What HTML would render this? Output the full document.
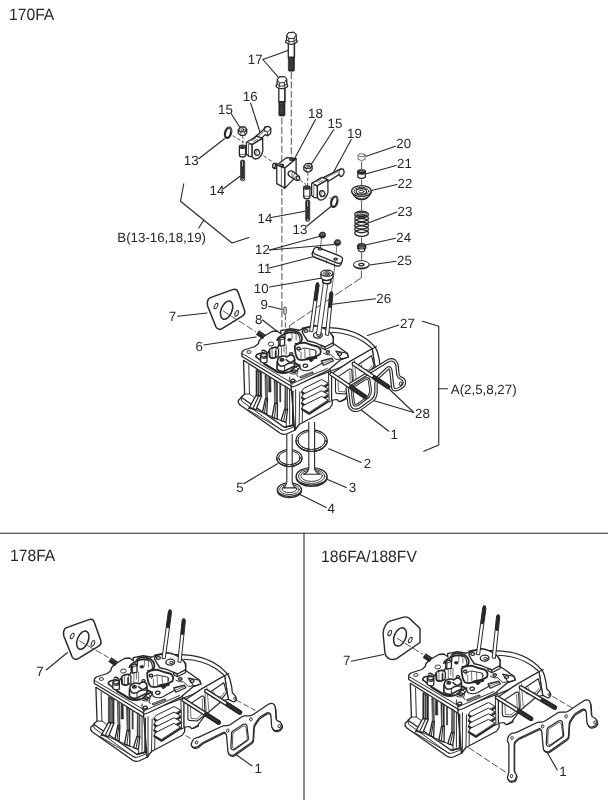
<!DOCTYPE html>
<html><head><meta charset="utf-8"><title>Cylinder head parts diagram</title>
<style>
html,body{margin:0;padding:0;background:#fff;}
body{width:608px;height:800px;overflow:hidden;}
svg{display:block;filter:grayscale(1);}
text{text-rendering:geometricPrecision;font-family:"Liberation Sans",Arial,Helvetica,sans-serif;fill:#2a2627;}
.l{fill:none;stroke:#2a2627;stroke-width:1.1;stroke-linecap:round;stroke-linejoin:round;}
.o{fill:#fff;stroke:#2a2627;stroke-width:.8;stroke-linejoin:round;stroke-linecap:round;}
.n{fill:none;stroke:#2a2627;stroke-width:.95;stroke-linejoin:round;stroke-linecap:round;}
.t{fill:none;stroke:#2a2627;stroke-width:.65;stroke-linejoin:round;stroke-linecap:round;}
.g{fill:#fff;stroke:#2a2627;stroke-width:1.3;stroke-linejoin:round;}
.k{fill:#2a2627;stroke:#2a2627;stroke-width:.6;stroke-linejoin:round;}
.d{fill:none;stroke:#2a2627;stroke-width:.8;stroke-dasharray:7 2.4;}
.r{fill:none;stroke:#2a2627;stroke-width:1.8;}
.h{fill:#777;stroke:none;}
</style></head>
<body>
<svg width="608" height="800" viewBox="0 0 608 800">
<rect x="0" y="0" width="608" height="800" fill="#fff"/>
<path class="l" d="M0.00,533.30 L608.00,533.30"/>
<path class="l" d="M304.00,533.30 L304.00,800.00"/>
<text transform="translate(9.00,20.30) scale(0.95,1)" font-size="16.5" text-anchor="start">170FA</text>
<text transform="translate(10.00,560.50) scale(0.95,1)" font-size="16.5" text-anchor="start">178FA</text>
<text transform="translate(321.00,561.80) scale(0.95,1)" font-size="16.5" text-anchor="start">186FA/188FV</text>
<text transform="translate(247.80,63.60) scale(1.0,1)" font-size="13.3" text-anchor="start">17</text>
<text transform="translate(242.80,100.90) scale(1.0,1)" font-size="13.3" text-anchor="start">16</text>
<text transform="translate(218.00,113.75) scale(1.0,1)" font-size="13.3" text-anchor="start">15</text>
<text transform="translate(308.00,118.00) scale(1.0,1)" font-size="13.3" text-anchor="start">18</text>
<text transform="translate(327.50,128.00) scale(1.0,1)" font-size="13.3" text-anchor="start">15</text>
<text transform="translate(347.00,138.00) scale(1.0,1)" font-size="13.3" text-anchor="start">19</text>
<text transform="translate(183.75,165.00) scale(1.0,1)" font-size="13.3" text-anchor="start">13</text>
<text transform="translate(209.50,194.50) scale(1.0,1)" font-size="13.3" text-anchor="start">14</text>
<text transform="translate(257.50,222.50) scale(1.0,1)" font-size="13.3" text-anchor="start">14</text>
<text transform="translate(292.50,233.75) scale(1.0,1)" font-size="13.3" text-anchor="start">13</text>
<text transform="translate(255.00,254.25) scale(1.0,1)" font-size="13.3" text-anchor="start">12</text>
<text transform="translate(257.50,273.00) scale(1.0,1)" font-size="13.3" text-anchor="start">11</text>
<text transform="translate(253.75,293.00) scale(1.0,1)" font-size="13.3" text-anchor="start">10</text>
<text transform="translate(396.25,148.25) scale(1.0,1)" font-size="13.3" text-anchor="start">20</text>
<text transform="translate(397.00,168.00) scale(1.0,1)" font-size="13.3" text-anchor="start">21</text>
<text transform="translate(397.50,188.00) scale(1.0,1)" font-size="13.3" text-anchor="start">22</text>
<text transform="translate(397.50,216.25) scale(1.0,1)" font-size="13.3" text-anchor="start">23</text>
<text transform="translate(396.25,241.75) scale(1.0,1)" font-size="13.3" text-anchor="start">24</text>
<text transform="translate(397.00,265.00) scale(1.0,1)" font-size="13.3" text-anchor="start">25</text>
<text transform="translate(376.25,303.00) scale(1.0,1)" font-size="13.3" text-anchor="start">26</text>
<text transform="translate(400.00,328.00) scale(1.0,1)" font-size="13.3" text-anchor="start">27</text>
<text transform="translate(415.00,418.25) scale(1.0,1)" font-size="13.3" text-anchor="start">28</text>
<text transform="translate(390.50,439.25) scale(1.0,1)" font-size="13.3" text-anchor="start">1</text>
<text transform="translate(363.75,468.00) scale(1.0,1)" font-size="13.3" text-anchor="start">2</text>
<text transform="translate(348.75,492.00) scale(1.0,1)" font-size="13.3" text-anchor="start">3</text>
<text transform="translate(327.50,513.00) scale(1.0,1)" font-size="13.3" text-anchor="start">4</text>
<text transform="translate(236.25,492.00) scale(1.0,1)" font-size="13.3" text-anchor="start">5</text>
<text transform="translate(195.50,350.50) scale(1.0,1)" font-size="13.3" text-anchor="start">6</text>
<text transform="translate(168.75,320.50) scale(1.0,1)" font-size="13.3" text-anchor="start">7</text>
<text transform="translate(255.00,323.75) scale(1.0,1)" font-size="13.3" text-anchor="start">8</text>
<text transform="translate(260.50,309.25) scale(1.0,1)" font-size="13.3" text-anchor="start">9</text>
<text transform="translate(36.25,675.50) scale(1.0,1)" font-size="13.3" text-anchor="start">7</text>
<text transform="translate(254.50,772.50) scale(1.0,1)" font-size="13.3" text-anchor="start">1</text>
<text transform="translate(343.00,665.00) scale(1.0,1)" font-size="13.3" text-anchor="start">7</text>
<text transform="translate(559.25,776.25) scale(1.0,1)" font-size="13.3" text-anchor="start">1</text>
<text transform="translate(117.30,242.20) scale(1.0,1)" font-size="13.3" text-anchor="start">B(13-16,18,19)</text>
<text transform="translate(450.80,393.80) scale(1.0,1)" font-size="13.3" text-anchor="start">A(2,5,8,27)</text>
<path class="l" d="M262.90,59.50 L287.90,50.40"/>
<path class="l" d="M262.90,59.50 L279.30,78.40"/>
<path class="l" d="M250.60,103.00 L260.40,133.50"/>
<path class="l" d="M231.25,113.75 L240.00,127.50"/>
<path class="l" d="M315.50,119.50 L294.50,158.75"/>
<path class="l" d="M333.75,129.50 L310.50,165.50"/>
<path class="l" d="M351.25,139.50 L332.00,175.00"/>
<path class="l" d="M198.75,158.75 L224.50,138.75"/>
<path class="l" d="M223.25,188.75 L240.00,176.25"/>
<path class="l" d="M271.25,217.50 L305.00,211.25"/>
<path class="l" d="M307.00,226.00 L331.25,206.25"/>
<path class="l" d="M269.50,250.00 L320.00,236.25"/>
<path class="l" d="M269.50,250.00 L334.00,244.50"/>
<path class="l" d="M269.50,268.00 L315.00,256.25"/>
<path class="l" d="M269.50,287.00 L322.00,278.00"/>
<path class="l" d="M395.50,146.25 L366.25,156.25"/>
<path class="l" d="M396.25,165.50 L366.25,173.75"/>
<path class="l" d="M397.00,184.50 L371.25,190.50"/>
<path class="l" d="M397.00,212.00 L369.50,222.50"/>
<path class="l" d="M395.50,238.25 L365.50,245.00"/>
<path class="l" d="M396.25,261.25 L369.50,265.00"/>
<path class="l" d="M375.50,298.75 L332.50,304.25"/>
<path class="l" d="M398.75,325.00 L367.50,335.50"/>
<path class="l" d="M413.75,412.50 L386.25,386.25"/>
<path class="l" d="M413.75,412.50 L367.50,398.75"/>
<path class="l" d="M388.75,431.25 L361.25,410.00"/>
<path class="l" d="M361.25,462.50 L328.75,448.75"/>
<path class="l" d="M346.25,487.50 L327.50,479.50"/>
<path class="l" d="M326.25,507.50 L300.00,494.50"/>
<path class="l" d="M243.75,483.75 L277.50,463.75"/>
<path class="l" d="M203.75,345.00 L256.25,337.00"/>
<path class="l" d="M177.50,316.25 L207.00,313.00"/>
<path class="l" d="M262.50,320.00 L282.50,335.50"/>
<path class="l" d="M268.75,306.25 L282.50,309.50"/>
<path class="l" d="M183.75,183.75 L180.50,201.25 L232.00,243.00 L249.00,237.50"/>
<path class="l" d="M203.75,220.00 L198.75,228.00"/>
<path class="l" d="M422.50,321.25 L438.75,326.25 L438.75,445.00 L423.75,451.25"/>
<path class="l" d="M438.75,388.75 L447.50,388.75"/>
<path class="l" d="M46.25,670.00 L67.50,652.50"/>
<path class="l" d="M252.00,766.00 L236.00,754.50"/>
<path class="l" d="M351.25,661.25 L383.75,654.50"/>
<path class="l" d="M557.25,770.00 L547.25,752.50"/>
<path class="g" d="M288.30,43.10 L288.30,57.50 L294.50,57.50 L294.50,43.10" />
<path class="n" d="M294.20,44.10 L294.20,57.00"/>
<rect class="k" x="288.30" y="57.00" width="6.20" height="14.20" rx="1.2"/>
<path d="M289.50,59.00 L292.90,59.40" stroke="#777" stroke-width=".5" fill="none"/>
<path d="M289.50,60.90 L292.90,61.30" stroke="#777" stroke-width=".5" fill="none"/>
<path d="M289.50,62.80 L292.90,63.20" stroke="#777" stroke-width=".5" fill="none"/>
<path d="M289.50,64.70 L292.90,65.10" stroke="#777" stroke-width=".5" fill="none"/>
<path d="M289.50,66.60 L292.90,67.00" stroke="#777" stroke-width=".5" fill="none"/>
<path d="M289.50,68.50 L292.90,68.90" stroke="#777" stroke-width=".5" fill="none"/>
<path class="g" d="M286.80,35.30 L288.90,32.60 L293.80,32.30 L296.10,34.70 L296.40,39.70 Q297.40,40.70 297.10,42.10 Q294.40,44.50 291.40,44.30 Q288.40,44.50 285.70,42.30 Q285.40,40.90 286.50,39.90 Z" style="stroke-width:1.3"/>
<path class="g" d="M286.80,35.30 L288.90,32.60 L293.80,32.30 L296.10,34.70 L294.00,38.30 L288.80,38.50Z" style="stroke-width:1"/>
<path class="n" d="M288.80,38.50 L288.80,42.70 M294.00,38.30 L294.10,42.50" />
<path class="n" d="M286.50,39.90 Q291.40,44.10 296.40,39.70" />
<path class="g" d="M278.80,87.50 L278.80,101.90 L285.00,101.90 L285.00,87.50" />
<path class="n" d="M284.70,88.50 L284.70,101.40"/>
<rect class="k" x="278.80" y="101.40" width="6.20" height="14.60" rx="1.2"/>
<path d="M280.00,103.40 L283.40,103.80" stroke="#777" stroke-width=".5" fill="none"/>
<path d="M280.00,105.30 L283.40,105.70" stroke="#777" stroke-width=".5" fill="none"/>
<path d="M280.00,107.20 L283.40,107.60" stroke="#777" stroke-width=".5" fill="none"/>
<path d="M280.00,109.10 L283.40,109.50" stroke="#777" stroke-width=".5" fill="none"/>
<path d="M280.00,111.00 L283.40,111.40" stroke="#777" stroke-width=".5" fill="none"/>
<path d="M280.00,112.90 L283.40,113.30" stroke="#777" stroke-width=".5" fill="none"/>
<path class="g" d="M277.30,79.70 L279.40,77.00 L284.30,76.70 L286.60,79.10 L286.90,84.10 Q287.90,85.10 287.60,86.50 Q284.90,88.90 281.90,88.70 Q278.90,88.90 276.20,86.70 Q275.90,85.30 277.00,84.30 Z" style="stroke-width:1.3"/>
<path class="g" d="M277.30,79.70 L279.40,77.00 L284.30,76.70 L286.60,79.10 L284.50,82.70 L279.30,82.90Z" style="stroke-width:1"/>
<path class="n" d="M279.30,82.90 L279.30,87.10 M284.50,82.70 L284.60,86.90" />
<path class="n" d="M277.00,84.30 Q281.90,88.50 286.90,84.10" />
<path class="d" d="M291.3,72 L291.3,157"/>
<path class="d" d="M281.8,117.5 L281.8,163"/>
<path class="d" d="M281.9,188.5 L281.9,332"/>
<path class="d" d="M285.4,315.4 L285.4,341" style="stroke-dasharray:5 2"/>
<path class="g" d="M238.30,130.10 L238.30,133.50 L241.03,135.60 L244.81,135.20 L246.70,132.90 L246.70,129.50Z" />
<path class="g" d="M238.30,129.90 L240.61,127.00 L244.81,126.80 L246.70,129.40 L244.60,131.70 L240.82,131.90Z" />
<path class="t" d="M240.82,131.90 L241.03,135.60"/>
<path class="t" d="M244.60,131.70 L244.81,135.20"/>
<ellipse class="n" cx="242.60" cy="129.60" rx="1.50" ry="0.90" />
<path class="g" d="M303.90,166.60 L303.90,170.00 L306.56,172.00 L310.25,171.60 L312.10,169.40 L312.10,166.00Z" />
<path class="g" d="M303.90,166.40 L306.15,163.60 L310.25,163.40 L312.10,165.90 L310.05,168.20 L306.36,168.40Z" />
<path class="t" d="M306.36,168.40 L306.56,172.00"/>
<path class="t" d="M310.05,168.20 L310.25,171.60"/>
<ellipse class="n" cx="308.10" cy="166.10" rx="1.50" ry="0.90" />
<ellipse class="r" cx="228.10" cy="132.70" rx="2.90" ry="5.30" transform="rotate(16 228.10 132.70)" style="stroke-width:2.3"/>
<path class="n" d="M228.30,127.20 Q232.20,128.40 231.90,132.20" style="stroke:#ccc;stroke-width:.4"/>
<ellipse class="r" cx="334.30" cy="201.80" rx="2.90" ry="5.30" transform="rotate(16 334.30 201.80)" style="stroke-width:2.3"/>
<path class="n" d="M334.50,196.30 Q338.40,197.50 338.10,201.30" style="stroke:#ccc;stroke-width:.4"/>
<rect class="k" x="240.50" y="160.00" width="4.20" height="20.80" rx="1.6"/>
<path d="M242.50,161.20 L242.50,166.50" stroke="#ddd" stroke-width=".8" fill="none"/>
<path d="M241.30,168.00 L243.70,168.40" stroke="#777" stroke-width=".4" fill="none"/>
<path d="M241.30,170.00 L243.70,170.40" stroke="#777" stroke-width=".4" fill="none"/>
<path d="M241.30,172.00 L243.70,172.40" stroke="#777" stroke-width=".4" fill="none"/>
<path d="M241.30,174.00 L243.70,174.40" stroke="#777" stroke-width=".4" fill="none"/>
<path d="M241.30,176.00 L243.70,176.40" stroke="#777" stroke-width=".4" fill="none"/>
<path d="M241.30,178.00 L243.70,178.40" stroke="#777" stroke-width=".4" fill="none"/>
<ellipse class="n" cx="242.60" cy="179.50" rx="0.90" ry="0.70" style="stroke:#ddd;stroke-width:.5"/>
<rect class="k" x="305.60" y="200.00" width="4.20" height="21.40" rx="1.6"/>
<path d="M307.60,201.20 L307.60,206.50" stroke="#ddd" stroke-width=".8" fill="none"/>
<path d="M306.40,208.00 L308.80,208.40" stroke="#777" stroke-width=".4" fill="none"/>
<path d="M306.40,210.00 L308.80,210.40" stroke="#777" stroke-width=".4" fill="none"/>
<path d="M306.40,212.00 L308.80,212.40" stroke="#777" stroke-width=".4" fill="none"/>
<path d="M306.40,214.00 L308.80,214.40" stroke="#777" stroke-width=".4" fill="none"/>
<path d="M306.40,216.00 L308.80,216.40" stroke="#777" stroke-width=".4" fill="none"/>
<path d="M306.40,218.00 L308.80,218.40" stroke="#777" stroke-width=".4" fill="none"/>
<path d="M306.40,220.00 L308.80,220.40" stroke="#777" stroke-width=".4" fill="none"/>
<ellipse class="n" cx="307.70" cy="220.10" rx="0.90" ry="0.70" style="stroke:#ddd;stroke-width:.5"/>
<path class="g" d="M239.40,146.60 L239.40,154.80 Q239.40,157.00 242.50,157.00 Q245.60,157.00 245.60,154.80 L245.60,146.60Z" />
<ellipse class="g" cx="242.50" cy="146.80" rx="3.10" ry="1.60" />
<ellipse class="k" cx="242.50" cy="147.00" rx="2.10" ry="0.90" />
<path class="t" d="M239.40,154.40 L245.60,154.40"/>
<path class="g" d="M303.70,187.40 L303.70,196.60 Q303.70,198.80 306.80,198.80 Q309.90,198.80 309.90,196.60 L309.90,187.40Z" />
<ellipse class="g" cx="306.80" cy="187.60" rx="3.10" ry="1.60" />
<ellipse class="k" cx="306.80" cy="187.80" rx="2.10" ry="0.90" />
<path class="t" d="M303.70,196.20 L309.90,196.20"/>
<g transform="translate(0,0)">
<path class="g" d="M252,139.5 L263.6,129.6 L265,127 L268.6,126.4 L270.8,128.2 L270.6,133.6 L267.6,135.8 L265.2,134.6 L259,140.6 Z" />
<path class="n" d="M264.6,131 L265,127 M264.6,131 L267.6,132 L267.6,135.8 M267.6,132 L270.8,128.4" />
<path class="t" d="M255.50,138.60 L264.20,131.20"/>
<path class="g" d="M246.4,142.2 L256.8,136.2 L262.6,138.4 L252.2,144.6 Z" />
<path class="t" d="M251.5,140.6 L255.6,138.3 M253.6,141.6 L257.6,139.3" />
<path class="g" d="M246.4,142.2 L246.4,154 L249,156.4 L249,143.6" />
<path class="g" d="M249,143.6 L252.2,144.6 L252.2,156.6 L249,156.4" />
<path class="g" d="M252.2,144.6 L262.6,138.4 L262.8,151 Q261,158.6 255.6,159 Q252.2,158.4 252.2,155.4 Z" />
<ellipse class="g" cx="257.00" cy="152.40" rx="2.60" ry="3.00" transform="rotate(-15 257.00 152.40)" />
<path class="t" d="M255.8,154.6 Q255,151.6 257.4,150" />
</g>
<g transform="translate(65.2,41.2)">
<path class="g" d="M252,139.5 L272,129.4 L275.5,127.6 L278.2,128 L279,131.2 L277.6,134.4 L275.4,135.4 L273.8,133.4 L262,140.8 Z" />
<path class="n" d="M273.8,133.4 Q272.8,130.2 275.5,127.6" />
<path class="t" d="M256.00,138.80 L272.50,130.40"/>
<path class="g" d="M246.4,142.2 L256.8,136.2 L262.6,138.4 L252.2,144.6 Z" />
<path class="t" d="M251.5,140.6 L255.6,138.3 M253.6,141.6 L257.6,139.3" />
<path class="g" d="M246.4,142.2 L246.4,154 L249,156.4 L249,143.6" />
<path class="g" d="M249,143.6 L252.2,144.6 L252.2,156.6 L249,156.4" />
<path class="g" d="M252.2,144.6 L262.6,138.4 L262.8,151 Q261,158.6 255.6,159 Q252.2,158.4 252.2,155.4 Z" />
<ellipse class="g" cx="257.00" cy="152.40" rx="2.60" ry="3.00" transform="rotate(-15 257.00 152.40)" />
<path class="t" d="M255.8,154.6 Q255,151.6 257.4,150" />
</g>
<path class="d" d="M232.6,135.7 L243.6,142.2" style="stroke-dasharray:3.5 2"/>
<path class="d" d="M242.8,135.8 L242.8,145" style="stroke-dasharray:3 1.6"/>
<path class="d" d="M263.4,155.6 L273.2,162.4" style="stroke-dasharray:4 2"/>
<path class="d" d="M300.4,180.4 L306,184.6" style="stroke-dasharray:3 1.8"/>
<path class="d" d="M307.9,172.4 L307.5,186" style="stroke-dasharray:3.4 1.8"/>
<path class="d" d="M329.6,197.6 L331.4,198.8" style="stroke-dasharray:2 1.5"/>
<path class="g" d="M273.2,164 Q272.4,166.6 274,168.6 L277,168 L276.8,163.6 Z" />
<ellipse class="g" cx="274.10" cy="165.60" rx="1.30" ry="2.40" transform="rotate(10 274.10 165.60)" />
<path class="g" d="M276.75,165 L286.75,157.6 L296.1,158.75 L284.9,168.1 Z" />
<path class="g" d="M276.75,165 L276.75,183.6 L284.9,188.1 L284.9,168.1 Z" />
<path class="g" d="M284.9,168.1 L296.1,158.75 L296.1,176.6 L284.9,188.1 Z" />
<path class="t" d="M281.40,167.00 L281.40,186.20"/>
<ellipse class="g" cx="281.60" cy="165.40" rx="2.00" ry="1.25" />
<ellipse class="n" cx="281.80" cy="165.60" rx="1.20" ry="0.70" />
<ellipse class="g" cx="291.60" cy="159.20" rx="1.90" ry="1.20" />
<ellipse class="n" cx="291.80" cy="159.40" rx="1.10" ry="0.65" />
<path class="g" d="M288.4,172.2 Q291,170.2 293,171.4 L299,176.2 Q300.4,178.2 298.6,180 Q296.8,181 295.2,179.8 L289.6,176.2 Q287.4,174.4 288.4,172.2Z" />
<ellipse class="g" cx="297.90" cy="178.20" rx="1.50" ry="2.20" transform="rotate(-35 297.90 178.20)" />
<path class="t" d="M292.6,171.6 Q290.6,174 292.4,177.4 M294.4,172.8 Q292.8,175.4 294.4,178.6" />
<path class="d" d="M361.6,161.5 L361.6,169 M361.6,179.5 L361.6,185.5 M361.6,201 L361.6,210.5 M361.6,237.5 L361.6,243.5 M361.6,252.5 L361.6,260.6 M361.40000000000003,270.6 L361.40000000000003,277.6" style="stroke-dasharray:none"/>
<path class="d" d="M361.6,277.6 L289.6,325.6 L289.8,333" style="stroke-dasharray:9 2.4"/>
<path class="o" d="M358.1,155.2 L358.1,159.4 Q361.6,161.6 365.1,159.4 L365.1,155.2Z" style="stroke:#4a4a4a"/>
<ellipse class="o" cx="361.60" cy="155.20" rx="3.50" ry="1.50" style="stroke:#4a4a4a"/>
<path class="g" d="M357.90000000000003,170.8 L357.90000000000003,177.2 Q361.6,179.6 365.3,177.2 L365.3,170.8Z" />
<path class="k" d="M357.90000000000003,170.8 L357.90000000000003,173.6 Q361.6,175.6 365.3,173.6 L365.3,170.8Z" />
<ellipse class="k" cx="361.60" cy="170.80" rx="3.70" ry="1.50" />
<ellipse class="n" cx="361.60" cy="170.80" rx="2.20" ry="0.80" style="stroke:#bbb;stroke-width:.5"/>
<path class="g" d="M351.8,191.4 Q352.0,194 356.6,198.4 Q361.6,201.2 366.6,198.4 Q371.20000000000005,194 371.40000000000003,191.4Z" />
<path class="n" d="M356.0,197.6 Q361.6,200 367.20000000000005,197.6" />
<ellipse class="g" cx="361.40" cy="191.00" rx="9.80" ry="5.40" style="stroke-width:1.3"/>
<ellipse class="n" cx="361.40" cy="191.20" rx="7.40" ry="3.90" />
<ellipse class="n" cx="361.40" cy="191.40" rx="5.20" ry="2.70" style="stroke-width:1.2"/>
<ellipse class="n" cx="361.40" cy="191.60" rx="2.60" ry="1.30" />
<ellipse class="n" cx="361.60" cy="233.00" rx="6.80" ry="3.40" style="stroke-width:1.35"/>
<ellipse class="n" cx="361.60" cy="229.30" rx="6.80" ry="3.40" style="stroke-width:1.35"/>
<ellipse class="n" cx="361.60" cy="225.60" rx="6.80" ry="3.40" style="stroke-width:1.35"/>
<ellipse class="n" cx="361.60" cy="221.90" rx="6.80" ry="3.40" style="stroke-width:1.35"/>
<ellipse class="n" cx="361.60" cy="218.20" rx="6.80" ry="3.40" style="stroke-width:1.35"/>
<ellipse class="n" cx="361.60" cy="214.50" rx="6.80" ry="3.40" style="stroke-width:1.35"/>
<ellipse class="n" cx="361.60" cy="214.40" rx="4.60" ry="2.10" style="stroke-width:1.1"/>
<ellipse class="n" cx="361.60" cy="214.80" rx="2.60" ry="1.10" style="stroke-width:.7"/>
<path class="g" d="M357.6,245.6 L357.6,248.4 L358.6,249 L358.6,250.8 Q361.6,252.8 364.6,250.8 L364.6,249 L365.6,248.4 L365.6,245.6Z" />
<ellipse class="k" cx="361.60" cy="245.40" rx="4.00" ry="2.10" />
<ellipse class="n" cx="361.60" cy="245.60" rx="2.00" ry="0.90" style="stroke:#999;stroke-width:.5"/>
<path class="n" d="M357.6,247.6 Q361.6,250.4 365.6,247.6" style="stroke-width:1.2"/>
<ellipse class="k" cx="361.30" cy="265.40" rx="7.80" ry="3.80" />
<ellipse class="g" cx="361.30" cy="264.40" rx="7.80" ry="3.70" style="stroke-width:1"/>
<ellipse class="g" cx="361.40" cy="264.60" rx="2.60" ry="1.30" />
<path class="t" d="M321.60,237.80 L320.40,248.40"/>
<path class="t" d="M336.90,245.40 L335.70,258.60"/>
<path class="t" d="M335.50,261.00 L331.50,292.00"/>
<path class="k" d="M319.0,234.4 L320.7,232.2 L324.1,232.1 L325.7,234.1 L325.6,236.2 L323.8,238 L320.6,238 L319.0,236.4Z" />
<ellipse class="n" cx="322.40" cy="234.40" rx="1.50" ry="0.90" style="stroke:#aaa;stroke-width:.6"/>
<path class="k" d="M334.09999999999997,242.0 L335.79999999999995,239.79999999999998 L339.2,239.7 L340.79999999999995,241.7 L340.7,243.79999999999998 L338.9,245.6 L335.7,245.6 L334.09999999999997,244.0Z" />
<ellipse class="n" cx="337.50" cy="242.00" rx="1.50" ry="0.90" style="stroke:#aaa;stroke-width:.6"/>
<g transform="rotate(21.5 327.8 255.6)">
<rect class="g" x="312.4" y="254.6" width="30.8" height="7.4" rx="3.7" style="stroke-width:1.5"/>
<rect class="g" x="312.4" y="251.6" width="30.8" height="7.4" rx="3.7"/>
</g>
<ellipse class="g" cx="320.10" cy="248.90" rx="1.70" ry="1.00" />
<ellipse class="g" cx="335.60" cy="259.10" rx="1.70" ry="1.00" />
<path class="t" d="M326.5,260.4 L326.6,263 M334.4,263.6 L334.5,266.2" />
<path class="g" d="M320.9,273.4 L321,277.6 Q321.6,279 322.6,279.4 L322.8,282.4 Q326.6,285 330.6,282.6 L330.8,279.4 Q332.6,278.6 332.9,277.2 L332.9,273.2Z" />
<ellipse class="g" cx="326.90" cy="273.20" rx="6.00" ry="3.00" />
<ellipse class="n" cx="326.90" cy="273.40" rx="3.60" ry="1.70" />
<ellipse class="n" cx="327.00" cy="273.50" rx="1.60" ry="0.70" />
<path class="t" d="M322.6,279.4 Q326.6,281.6 330.8,279.4" />
<defs>
<g id="head">
<path class="g" d="M322,327.6 Q350,326.5 366.75,339.3 Q376.1,346.5 377.5,352 L379.25,359.6 L380,366 Q383.6,368.6 384,372 Q383.6,374.8 380.8,374.8 L376,372.4 L374.6,364.3 L372.2,348.7 L350.3,361.2 L331.6,373.7 L320,345 Z" style="stroke-width:1.25"/>
<path class="n" d="M331.6,332.3 Q350,333 363.6,341.7 Q369.5,346 372.2,348.7 L376.4,346.6" style="stroke-width:1.1"/>
<ellipse class="n" cx="382.20" cy="371.60" rx="0.90" ry="1.20" style="stroke-width:.8"/>
<path class="g" d="M238.44,400.25 Q237.50,402.50 239.75,404.75 L280.25,433.25 Q283.44,435.12 286.62,434.00 L294.69,430.25 L294.69,425.00 L284.38,427.25 L243.12,395.94 Z" />
<path class="n" d="M241.25,397.25 L241.62,401.00 L281.00,429.69 Q283.62,431.00 286.25,429.88 L293.75,426.88" />
<path class="g" d="M243.50,360.31 L244.62,394.06 L241.25,397.25 L248.75,402.50 L284.38,427.25 L292.81,425.00 L292.81,391.25 Z" />
<path class="n" d="M248.75,365.00 L249.50,394.06 L244.62,394.06 M249.50,394.06 L256.25,398.75" />
<path class="k" d="M256.00,369.50 L261.62,372.62 L261.62,396.00 L256.00,396.00 Z" />
<path class="k" d="M265.00,375.12 L267.25,376.50 L267.50,398.50 L265.50,398.50 Z" />
<path class="k" d="M268.75,377.00 L270.75,378.25 L271.00,392.00 L268.75,392.00 Z" />
<path class="k" d="M274.12,379.75 L277.50,381.75 L277.50,403.25 L274.75,403.25 Z" />
<path class="k" d="M279.75,383.25 L280.75,383.88 L280.75,402.00 L279.75,402.00 Z" />
<path class="k" d="M285.00,385.75 L287.50,387.25 L287.50,409.50 L284.75,409.50 Z" />
<path class="n" d="M257.75,372.00 L257.75,395.75 M259.50,373.00 L259.50,395.75" style="stroke:#fff;stroke-width:.55"/>
<path class="n" d="M275.75,382.00 L275.75,403.00" style="stroke:#fff;stroke-width:.6"/>
<path class="n" d="M286.25,387.62 L286.25,409.25" style="stroke:#fff;stroke-width:.6"/>
<path class="n" d="M266.25,377.00 L266.25,398.25" style="stroke:#fff;stroke-width:.5"/>
<path class="g" d="M256.00,395.50 L249.12,408.00 L256.00,409.75 L261.62,396.00 Z" style="stroke-width:1.3"/>
<path class="n" d="M258.75,396.00 L252.75,408.75" style="stroke-width:1.1"/>
<path class="g" d="M265.50,398.50 L262.50,412.25 L266.75,414.00 L267.50,398.50 Z" style="stroke-width:1.3"/>
<path class="n" d="M266.50,398.75 L264.50,413.00" style="stroke-width:1"/>
<path class="g" d="M274.75,403.25 L272.00,417.25 L277.25,419.25 L277.50,403.25 Z" style="stroke-width:1.3"/>
<path class="n" d="M276.12,403.50 L274.50,418.25" style="stroke-width:1"/>
<path class="g" d="M284.50,409.50 L281.00,420.75 L286.00,422.25 L287.50,409.50 Z" style="stroke-width:1.3"/>
<path class="n" d="M286.00,409.75 L283.50,421.50" style="stroke-width:1"/>
<path class="n" d="M249.69,407.19 L286.25,422.75 L286.25,427.81 M249.69,407.19 L247.81,409.62 L282.88,430.62" />
<path class="g" d="M291.00,386.00 L294.69,430.25 L299.12,424.50 L329.75,408.25 L332.25,404.50 L332.25,400.12 L337.88,397.62 L341.00,401.38 L346.00,398.88 L346.00,390.75 L351.00,363.25 L328.50,372.00Z" />
<path class="n" d="M289.62,389.75 L289.62,424.06 M295.62,389.75 L295.62,429.69" />
<path class="n" d="M292.81,391.25 L292.81,425.38" style="stroke-width:1.5"/>
<path class="n" d="M299.75,392.00 L299.12,424.50 M302.88,390.75 L302.25,422.00" />
<path class="g" d="M301.62,391.50 L303.50,388.50 L321.62,379.50 L327.88,383.00 L327.88,384.75 L309.12,397.00 Z" style="stroke-width:1"/>
<path class="n" d="M301.62,391.50 L309.12,395.50 L327.88,383.25" style="stroke-width:.8"/>
<path class="n" d="M301.88,392.38 L309.12,397.00 L327.88,384.88" style="stroke-width:1.9"/>
<path class="g" d="M301.62,397.12 L303.50,394.12 L321.62,385.12 L327.88,388.62 L327.88,390.38 L309.12,402.62 Z" style="stroke-width:1"/>
<path class="n" d="M301.62,397.12 L309.12,401.12 L327.88,388.88" style="stroke-width:.8"/>
<path class="n" d="M301.88,398.00 L309.12,402.62 L327.88,390.50" style="stroke-width:1.9"/>
<path class="g" d="M301.62,402.75 L303.50,399.75 L321.62,390.75 L327.88,394.25 L327.88,396.00 L309.12,408.25 Z" style="stroke-width:1"/>
<path class="n" d="M301.62,402.75 L309.12,406.75 L327.88,394.50" style="stroke-width:.8"/>
<path class="n" d="M301.88,403.62 L309.12,408.25 L327.88,396.12" style="stroke-width:1.9"/>
<path class="g" d="M301.62,408.38 L303.50,405.38 L321.62,396.38 L327.88,399.88 L327.88,401.62 L309.12,413.88 Z" style="stroke-width:1"/>
<path class="n" d="M301.62,408.38 L309.12,412.38 L327.88,400.12" style="stroke-width:.8"/>
<path class="n" d="M301.88,409.25 L309.12,413.88 L327.88,401.75" style="stroke-width:1.9"/>
<path class="n" d="M328.50,372.00 L329.12,402.00 M331.62,373.88 L331.62,400.75 L329.12,402.00" />
<path class="n" d="M333.50,380.75 L333.50,397.00 L338.50,395.12 L339.12,392.00 L342.25,390.75 L343.50,393.88 L348.50,392.00" />
<path class="n" d="M333.50,380.75 Q334.12,377.00 338.50,375.75 L344.75,384.50 L344.75,392.00" />
<path class="g" d="M241.80,353.80 L242.00,352.00 L244.00,350.00 L255.00,346.50 L258.50,343.50 L259.00,341.00 L261.50,338.00 L264.50,336.00 L272.00,331.50 L277.00,331.00 L281.00,333.80 L280.75,330.62 L290.75,328.75 L299.50,330.25 L303.88,328.12 L302.25,328.25 L314.75,325.75 L328.50,331.38 L333.50,337.00 L332.88,343.25 L338.50,347.00 L347.25,353.25 L348.50,357.00 L341.00,359.50 L328.50,370.12 L296.00,385.75 L292.25,387.00 L291.00,386.00 L242.00,356.50Z" />
<path class="n" d="M241.80,353.80 L243.00,354.00 L292.00,383.00 L292.25,383.50 L327.25,368.50" />
<path class="n" d="M291.00,383.00 L291.00,386.00" />
<ellipse class="g" cx="249.00" cy="352.00" rx="2.20" ry="1.40" transform="rotate(-5 249.00 352.00)" style="stroke-width:.9"/>
<ellipse class="g" cx="271.00" cy="344.00" rx="2.80" ry="2.00" transform="rotate(-5 271.00 344.00)" style="stroke-width:.9"/>
<ellipse class="g" cx="263.50" cy="351.20" rx="1.80" ry="1.20" transform="rotate(-5 263.50 351.20)" style="stroke-width:.8"/>
<ellipse class="g" cx="294.50" cy="371.50" rx="1.80" ry="1.20" transform="rotate(-5 294.50 371.50)" style="stroke-width:.8"/>
<ellipse class="g" cx="293.00" cy="381.00" rx="2.20" ry="1.50" transform="rotate(-5 293.00 381.00)" style="stroke-width:.9"/>
<path class="n" d="M256.00,356.80 Q255.80,354.80 258.00,354.00 L262.50,352.80 Q265.00,352.80 266.50,354.20 Q268.50,352.00 269.80,349.20 Q273.00,346.50 277.50,347.60 L279.20,344.50 L278.80,338.80 L283.00,337.00 L284.80,338.80 L285.00,334.00 Q290.00,331.50 296.00,333.00" style="stroke-width:1.5"/>
<path class="n" d="M256.00,356.80 L265.00,364.00 L277.00,371.20 Q281.00,373.50 285.00,372.50 L290.00,371.80 Q292.00,369.00 296.00,366.50 L300.00,365.00" style="stroke-width:1.5"/>
<path class="g" d="M260.50,355.50 L260.50,361.50 Q263.50,364.00 267.00,362.00 L267.00,355.50" />
<ellipse class="g" cx="263.70" cy="355.20" rx="3.30" ry="1.60" transform="rotate(-8 263.70 355.20)" />
<path class="g" d="M269.50,349.50 L270.00,357.00 Q274.00,359.80 278.50,356.00 L278.50,348.80" />
<path class="n" d="M269.50,349.50 Q273.50,346.00 278.50,348.80" />
<path class="t" d="M272.00,348.20 L272.20,357.20 M276.00,347.80 L276.20,357.50" />
<path class="g" d="M279.00,338.50 L283.00,337.00 L284.60,338.60 L284.60,345.20 L280.20,346.20 L279.00,344.20 Z" />
<path class="n" d="M280.20,340.00 L280.20,346.20 M280.20,340.00 L284.60,338.60 M279.00,338.50 L280.20,340.00" />
<ellipse class="k" cx="289.50" cy="339.80" rx="2.00" ry="1.40" />
<path class="g" d="M277.20,361.20 L277.00,369.00 Q280.00,372.20 284.60,371.00 L294.60,366.00 L294.60,359.20" style="stroke-width:1.7"/>
<path class="g" d="M277.50,360.50 Q277.80,357.50 281.00,356.50 Q284.00,355.50 287.00,357.00 Q289.00,354.50 292.00,355.00 Q294.80,356.00 294.60,359.80 Q293.00,362.00 287.00,364.00 Q285.00,366.20 281.00,366.20 Q277.50,365.00 277.50,360.50Z" style="stroke-width:1.5"/>
<path class="n" d="M284.60,366.00 L284.60,371.00" />
<ellipse class="g" cx="282.00" cy="359.80" rx="1.90" ry="1.30" transform="rotate(-8 282.00 359.80)" />
<ellipse class="n" cx="282.00" cy="360.00" rx="0.90" ry="0.60" transform="rotate(-8 282.00 360.00)" />
<ellipse class="g" cx="291.20" cy="353.80" rx="1.60" ry="1.10" transform="rotate(-5 291.20 353.80)" />
<path class="t" d="M261.50,354.50 L261.50,357.20 M281.50,347.00 L281.50,356.50 M284.00,346.00 L284.00,352.00 M286.20,345.00 L286.20,355.00" />
<path class="n" d="M296.00,366.50 Q299.00,369.00 297.50,372.00 Q296.00,374.00 297.50,376.50" />
<path class="n" d="M277.00,340.20 Q278.00,337.00 283.50,334.50 L285.60,331.60 Q291.00,328.80 298.00,332.00 Q302.20,335.00 302.00,339.20 Q301.80,342.50 298.00,344.80" style="stroke-width:1.7"/>
<path class="n" d="M286.60,332.80 Q292.00,330.80 297.50,333.60 Q300.50,337.00 300.00,341.60 Q298.00,344.20 295.20,343.40" style="stroke-width:1.1"/>
<path class="t" d="M292.00,332.80 L292.00,338.80 M296.00,333.20 L296.20,340.00" />
<path class="n" d="M300.00,358.60 Q308.00,360.40 316.50,357.80" style="stroke-width:2"/>
<ellipse class="k" cx="311.00" cy="360.60" rx="1.50" ry="0.90" transform="rotate(-10 311.00 360.60)" />
<path class="n" d="M295.00,363.00 Q298.50,363.80 300.00,367.00 Q298.50,369.80 295.00,372.00 Q292.00,372.50 290.00,371.00" style="stroke-width:1.3"/>
<path class="n" d="M262.00,350.50 Q265.00,350.20 266.50,352.00 L266.80,357.20 Q264.50,359.00 262.00,358.00" style="stroke-width:1.2"/>
<path class="n" d="M269.00,352.00 L269.50,357.00 Q272.50,359.60 275.60,357.00 L275.60,351.00" style="stroke-width:1.5"/>
<path class="n" d="M264.00,364.00 L277.00,372.00 Q282.00,374.00 288.00,372.50" style="stroke-width:1.5"/>
<path class="g" d="M302.25,332.25 Q302.00,328.88 306.00,328.00 L314.75,325.75 Q323.50,327.00 329.12,331.75 Q334.12,335.75 333.25,342.62 L325.00,347.00 L321.00,345.25 Q314.12,341.75 307.50,340.75 Q304.75,337.00 302.25,332.25Z" style="stroke-width:1.4"/>
<path class="n" d="M325.00,347.00 L325.00,349.75 L333.25,345.50 L333.25,342.62 M321.00,345.25 L321.25,347.75 L325.00,349.75" style="stroke-width:1.2"/>
<ellipse class="g" cx="317.88" cy="335.12" rx="4.38" ry="3.00" transform="rotate(-5 317.88 335.12)" />
<ellipse class="n" cx="318.75" cy="335.50" rx="1.75" ry="1.12" transform="rotate(-5 318.75 335.50)" />
<ellipse class="g" cx="306.00" cy="331.00" rx="2.00" ry="1.38" transform="rotate(-5 306.00 331.00)" />
<path class="g" d="M294.75,346.00 Q296.62,343.25 304.75,342.62 Q311.00,345.12 318.25,346.75 Q322.25,350.12 320.00,354.25 Q314.75,357.62 307.50,358.25 Q303.50,361.00 298.50,359.50 Q295.00,356.38 294.75,346.00Z" style="stroke-width:1.8"/>
<path class="n" d="M299.12,351.38 Q299.75,348.88 304.75,348.00 L315.38,350.12 Q317.25,352.00 316.00,353.88" />
<path class="t" d="M301.00,352.00 L301.00,358.50 M304.75,348.88 L305.00,357.62 M309.75,349.75 L310.00,357.00 M315.38,350.50 L315.50,355.75" />
<ellipse class="g" cx="298.50" cy="348.50" rx="1.75" ry="1.25" />
<ellipse class="g" cx="305.38" cy="365.75" rx="2.25" ry="1.62" transform="rotate(-5 305.38 365.75)" />
<ellipse class="g" cx="294.12" cy="371.00" rx="1.62" ry="1.12" transform="rotate(-5 294.12 371.00)" />
<ellipse class="g" cx="292.88" cy="380.50" rx="2.00" ry="1.38" transform="rotate(-5 292.88 380.50)" />
<ellipse class="g" cx="327.88" cy="352.00" rx="1.75" ry="1.25" transform="rotate(-5 327.88 352.00)" />
<ellipse class="g" cx="339.75" cy="354.00" rx="2.00" ry="1.38" transform="rotate(-5 339.75 354.00)" />
<ellipse class="k" cx="311.62" cy="360.12" rx="1.75" ry="1.00" transform="rotate(-20 311.62 360.12)" />
<path class="g" d="M321.25,361.00 L332.00,358.25 L333.50,360.75 L323.50,365.25 Z" />
<path class="t" d="M322.25,363.25 L332.50,359.50" />
<path class="k" d="M299.50,376.75 L312.25,371.75 L313.75,373.00 L300.75,378.25 Z" />
<path class="n" d="M301.00,377.00 L311.62,373.00" style="stroke:#fff;stroke-width:.5"/>
<path class="n" d="M335.75,351.00 L347.00,353.25 L348.50,357.00 L341.62,359.50 Z" style="stroke-width:1.2"/>
<path class="n" d="M323.50,353.25 Q327.25,355.75 331.00,354.75 L336.00,359.50 L344.75,358.25" />
<path class="n" d="M286.00,359.50 Q289.75,363.25 293.50,363.25 Q299.75,364.50 301.00,369.50 Q306.00,372.00 311.00,369.50 L322.25,363.25" style="stroke-width:1.2"/>
<path class="n" d="M289.75,373.25 Q292.25,374.50 296.00,373.88 M289.75,377.00 Q288.50,382.00 292.25,384.50" />
<path class="g" d="M331.6,373.7 L350.3,361.2 L372.2,348.7 L374.6,364.3 L376,372.4 L369.5,374 L360.5,381.5 L353,388 L345,398.7 L339.4,401.8 L337,399.5 L331.6,400.25 Z" style="stroke-width:1.2"/>
<path class="n" d="M335.5,378.4 L349.6,369 Q351.6,368.6 351.9,370.6 L352.7,387.75 L344.9,394 L337,393.4 Q335.4,393 335.5,391 Z" style="stroke-width:1.1"/>
<path class="t" d="M338,379.6 L338.6,391.4 L344.4,391.8 M344.4,391.8 L350.4,386.6 L349.8,371.6" />
<path class="n" d="M358.9,364.3 L371.4,355.7 L374.2,365.9 L369.1,372.1 L360.5,370.6 Q358.8,370 358.9,368 Z" style="stroke-width:1.1"/>
<path class="t" d="M361.4,364.6 L361.8,368.8 L368.4,370 M368.4,370 L372,365.4" />
<path class="t" d="M354.6,360.6 L356.4,383.6 M352.4,362.2 L354,386.4" />
<path d="M257.40,332.60 L264.20,337.00" stroke="#2a2627" stroke-width="5.4" stroke-linecap="butt" fill="none"/>
<path d="M258.00,331.80 L264.60,336.00" stroke="#777" stroke-width=".5" fill="none"/>
<g transform="translate(0,0)">
<path class="g" d="M316,284.4 L309.6,331.4 L312.8,331.8 L319.2,284.8 Q317.8,282.8 316,284.4Z" style="stroke-width:1"/>
<path class="n" d="M317.6,284 L315.5,299.5" style="stroke-width:3.3;stroke-linecap:round"/>
<path class="g" d="M329.8,293 L325.4,335 L328.6,335.4 L333,293.4 Q331.4,291.4 329.8,293Z" style="stroke-width:1"/>
<path class="n" d="M331.4,292.8 L330,306.4" style="stroke-width:3.3;stroke-linecap:round"/>
</g>
</g>
</defs>
<use href="#head"/>
<g transform="translate(0,0)">
<path class="g" d="M210.4,297.6 L232.6,289.6 Q236.6,288.4 238,292 L244.6,310.4 Q245.6,314 242.4,316.2 L221.6,328.8 Q218,330.6 216,327 L207.6,306 Q206.4,299.4 210.4,297.6Z" style="stroke-width:1.5"/>
<ellipse class="g" cx="226.60" cy="310.10" rx="5.40" ry="9.60" transform="rotate(22 226.60 310.10)" style="stroke-width:1.5"/>
<ellipse class="g" cx="216.00" cy="306.00" rx="1.50" ry="3.00" transform="rotate(25 216.00 306.00)" style="stroke-width:1"/>
<ellipse class="g" cx="236.70" cy="313.30" rx="1.50" ry="3.00" transform="rotate(25 236.70 313.30)" style="stroke-width:1"/>
</g>
<path class="d" d="M223,310.8 L256,332" style="stroke-dasharray:7 2.4"/>
<path class="g" d="M283.8,308 Q283.8,307 285,307 Q286.2,307 286.2,308 L286.2,313.4 Q286.2,314.4 285,314.4 Q283.8,314.4 283.8,313.4Z" style="stroke-width:.9"/>
<ellipse class="n" cx="311.60" cy="440.60" rx="15.60" ry="10.80" style="stroke-width:1.2"/>
<ellipse class="n" cx="311.60" cy="440.40" rx="13.70" ry="9.10" style="stroke-width:1"/>
<ellipse class="n" cx="289.40" cy="458.00" rx="12.60" ry="8.60" style="stroke-width:1.2"/>
<ellipse class="n" cx="289.40" cy="457.80" rx="10.70" ry="6.90" style="stroke-width:1"/>
<ellipse class="g" cx="311.60" cy="477.60" rx="15.40" ry="8.80" style="stroke-width:1.3"/>
<ellipse class="g" cx="311.60" cy="476.40" rx="15.40" ry="8.80" style="stroke-width:1.3"/>
<ellipse class="n" cx="311.60" cy="476.20" rx="13.20" ry="7.20" style="stroke-width:.9"/>
<ellipse class="n" cx="311.60" cy="475.80" rx="10.80" ry="5.60" style="stroke-width:.9"/>
<ellipse class="g" cx="289.40" cy="490.80" rx="12.00" ry="6.80" style="stroke-width:1.3"/>
<ellipse class="g" cx="289.40" cy="489.60" rx="12.00" ry="6.80" style="stroke-width:1.3"/>
<ellipse class="n" cx="289.40" cy="489.40" rx="9.80" ry="5.20" style="stroke-width:.9"/>
<ellipse class="n" cx="289.40" cy="489.00" rx="7.40" ry="3.60" style="stroke-width:.9"/>
<path class="g" d="M308.80,422.00 L308.80,468.60 Q308.20,472.44 303.23,474.20 L320.17,474.20 Q315.20,472.44 314.60,468.60 L314.60,422.00" style="stroke-width:1.1"/>
<path class="g" d="M286.80,434.00 L286.80,482.00 Q286.20,486.54 282.90,487.90 L296.10,487.90 Q292.80,486.54 292.20,482.00 L292.20,434.00" style="stroke-width:1.1"/>
<path class="n" d="M296,440.6 A15.6,10.8 0 0 0 327.2,440.6" style="stroke-width:1.2"/>
<path class="n" d="M297.9,440.4 A13.7,9.1 0 0 0 325.3,440.4" style="stroke-width:1"/>
<path class="n" d="M276.8,458 A12.6,8.6 0 0 0 302,458" style="stroke-width:1.2"/>
<path class="n" d="M278.7,457.8 A10.7,6.9 0 0 0 300.1,457.8" style="stroke-width:1"/>
<path class="g" d="M348.4,385.4 L367.2,373.8 L388.4,360.6 Q391.6,359 394.4,360.8 Q397,362.8 397.2,367 L397.9,374.6 Q398.6,377.2 401,378.2 Q404.4,379.6 404.4,382 Q404.6,385.4 401,387.6 Q397,390.2 394.4,389.6 Q392.6,389 392.6,386 L391,371.4 Q390.4,367 388,368 L378,377.6 Q376,379.6 376,383.6 L376,392.6 Q375.6,397.6 372.4,400.2 L359.6,409.4 Q356,411.2 352.4,409.6 Q349.6,407.8 349.2,404.8 L347.2,389 Q347,386.4 348.4,385.4Z" style="stroke-width:3.5"/>
<path class="n" d="M348.4,385.4 L367.2,373.8 L388.4,360.6 Q391.6,359 394.4,360.8 Q397,362.8 397.2,367 L397.9,374.6 Q398.6,377.2 401,378.2 Q404.4,379.6 404.4,382 Q404.6,385.4 401,387.6 Q397,390.2 394.4,389.6 Q392.6,389 392.6,386 L391,371.4 Q390.4,367 388,368 L378,377.6 Q376,379.6 376,383.6 L376,392.6 Q375.6,397.6 372.4,400.2 L359.6,409.4 Q356,411.2 352.4,409.6 Q349.6,407.8 349.2,404.8 L347.2,389 Q347,386.4 348.4,385.4Z" style="stroke:#fff;stroke-width:1.2"/>
<path class="n" d="M353.6,386.4 L365.2,378.8 Q368.6,377.6 369.2,380.4 L370.6,390.2 Q370.6,394.2 368.4,396.8 L357.6,404.8 Q354.4,406.2 353.6,403.4 L352.2,392 Q352,387.8 353.6,386.4Z" style="stroke-width:2.8"/>
<path class="n" d="M353.6,386.4 L365.2,378.8 Q368.6,377.6 369.2,380.4 L370.6,390.2 Q370.6,394.2 368.4,396.8 L357.6,404.8 Q354.4,406.2 353.6,403.4 L352.2,392 Q352,387.8 353.6,386.4Z" style="stroke:#fff;stroke-width:.8"/>
<ellipse class="g" cx="400.60" cy="383.60" rx="1.20" ry="1.80" transform="rotate(30 400.60 383.60)" style="stroke-width:.9"/>
<path d="M331.40,374.00 L365.20,396.80" stroke="#2a2627" stroke-width="4.5" stroke-linecap="round" fill="none"/>
<path d="M331.40,374.00 L365.20,396.80" stroke="#fff" stroke-width="2.00" stroke-linecap="round" fill="none"/>
<path d="M351.00,387.22 L365.20,396.80" stroke="#2a2627" stroke-width="4.5" stroke-linecap="round" fill="none"/>
<path d="M351.00,387.22 L365.20,396.80" stroke="#888" stroke-width=".5" stroke-dasharray=".6 1.1" fill="none"/>
<path d="M353.80,363.80 L388.20,386.80" stroke="#2a2627" stroke-width="4.5" stroke-linecap="round" fill="none"/>
<path d="M353.80,363.80 L388.20,386.80" stroke="#fff" stroke-width="2.00" stroke-linecap="round" fill="none"/>
<path d="M374.44,377.60 L388.20,386.80" stroke="#2a2627" stroke-width="4.5" stroke-linecap="round" fill="none"/>
<path d="M374.44,377.60 L388.20,386.80" stroke="#888" stroke-width=".5" stroke-dasharray=".6 1.1" fill="none"/>
<path class="g" d="M323.4,283 L316.4,334.4 L320.6,335.2 L327.8,283.6Z" style="stroke-width:.9"/>
<path class="g" d="M322.8,279.6 L322.8,282.4 Q326.6,285 330.6,282.6 L330.8,279.4 Q326.6,281.6 322.8,279.6Z" />
<use href="#head" transform="translate(-147.6,327)"/>
<use href="#head" transform="translate(166.8,323)"/>
<g transform="translate(-143.8,330)">
<path class="g" d="M210.4,297.6 L232.6,289.6 Q236.6,288.4 238,292 L244.6,310.4 Q245.6,314 242.4,316.2 L221.6,328.8 Q218,330.6 216,327 L207.6,306 Q206.4,299.4 210.4,297.6Z" style="stroke-width:1.5"/>
<ellipse class="g" cx="226.60" cy="310.10" rx="5.40" ry="9.60" transform="rotate(22 226.60 310.10)" style="stroke-width:1.5"/>
<ellipse class="g" cx="216.00" cy="306.00" rx="1.50" ry="3.00" transform="rotate(25 216.00 306.00)" style="stroke-width:1"/>
<ellipse class="g" cx="236.70" cy="313.30" rx="1.50" ry="3.00" transform="rotate(25 236.70 313.30)" style="stroke-width:1"/>
</g>
<path class="d" d="M79.2,640.8 L108.6,657.6" style="stroke-dasharray:7 2.4"/>
<path class="g" d="M390,621.2 L404.6,616.9 Q407.4,616.6 409.6,618.6 L418.75,627.3 L420,628.75 L420,642.5 L396.6,658.6 Q393,660.2 389.4,658.9 Q385.6,656.6 385,653.4 L383.1,633.75 Q383.2,628.6 385.4,625.4 Q387,622.4 390,621.2Z" style="stroke-width:1.4"/>
<ellipse class="g" cx="400.00" cy="636.90" rx="5.80" ry="9.60" transform="rotate(22 400.00 636.90)" style="stroke-width:1.5"/>
<ellipse class="g" cx="389.75" cy="633.10" rx="1.50" ry="3.00" transform="rotate(25 389.75 633.10)" style="stroke-width:1"/>
<ellipse class="g" cx="410.25" cy="640.00" rx="1.50" ry="3.00" transform="rotate(25 410.25 640.00)" style="stroke-width:1"/>
<path class="d" d="M397,638.2 L423,654.4" style="stroke-dasharray:7 2.4"/>
<path d="M183.75,700.00 L218.75,722.50" stroke="#2a2627" stroke-width="4.5" stroke-linecap="round" fill="none"/>
<path d="M183.75,700.00 L218.75,722.50" stroke="#fff" stroke-width="2.00" stroke-linecap="round" fill="none"/>
<path d="M206.15,714.40 L218.75,722.50" stroke="#2a2627" stroke-width="4.5" stroke-linecap="round" fill="none"/>
<path d="M206.15,714.40 L218.75,722.50" stroke="#888" stroke-width=".5" stroke-dasharray=".6 1.1" fill="none"/>
<path d="M206.25,691.00 L240.00,712.50" stroke="#2a2627" stroke-width="4.5" stroke-linecap="round" fill="none"/>
<path d="M206.25,691.00 L240.00,712.50" stroke="#fff" stroke-width="2.00" stroke-linecap="round" fill="none"/>
<path d="M227.85,704.76 L240.00,712.50" stroke="#2a2627" stroke-width="4.5" stroke-linecap="round" fill="none"/>
<path d="M227.85,704.76 L240.00,712.50" stroke="#888" stroke-width=".5" stroke-dasharray=".6 1.1" fill="none"/>
<path d="M497.25,697.50 L531.00,718.75" stroke="#2a2627" stroke-width="4.5" stroke-linecap="round" fill="none"/>
<path d="M497.25,697.50 L531.00,718.75" stroke="#fff" stroke-width="2.00" stroke-linecap="round" fill="none"/>
<path d="M518.85,711.10 L531.00,718.75" stroke="#2a2627" stroke-width="4.5" stroke-linecap="round" fill="none"/>
<path d="M518.85,711.10 L531.00,718.75" stroke="#888" stroke-width=".5" stroke-dasharray=".6 1.1" fill="none"/>
<path d="M521.00,687.50 L554.75,707.50" stroke="#2a2627" stroke-width="4.5" stroke-linecap="round" fill="none"/>
<path d="M521.00,687.50 L554.75,707.50" stroke="#fff" stroke-width="2.00" stroke-linecap="round" fill="none"/>
<path d="M542.60,700.30 L554.75,707.50" stroke="#2a2627" stroke-width="4.5" stroke-linecap="round" fill="none"/>
<path d="M542.60,700.30 L554.75,707.50" stroke="#888" stroke-width=".5" stroke-dasharray=".6 1.1" fill="none"/>
<g transform="translate(0,0)">
<path class="g" d="M507.55,738.84 Q508.00,737.10 509.08,735.66 L509.62,734.94 Q510.70,733.50 512.47,733.20 L514.23,732.90 Q516.00,732.60 517.62,731.82 L536.58,722.78 Q538.20,722.00 540.00,722.00 L541.70,722.00 Q543.50,722.00 545.01,721.02 L557.09,713.18 Q558.60,712.20 560.40,712.20 L564.80,712.20 Q566.60,712.20 568.10,711.21 L583.80,700.79 Q585.30,699.80 587.05,699.80 L587.05,699.80 Q588.80,699.80 589.62,701.40 L589.78,701.70 Q590.60,703.30 590.72,705.10 L591.38,714.80 Q591.50,716.60 593.17,717.28 L594.23,717.72 Q595.90,718.40 596.57,720.07 L597.03,721.23 Q597.70,722.90 596.60,724.33 L596.10,724.97 Q595.00,726.40 593.23,726.70 L591.47,727.00 Q589.70,727.30 588.62,725.86 L588.08,725.14 Q587.00,723.70 586.88,721.90 L586.22,712.20 Q586.10,710.40 584.80,709.55 L584.80,709.55 Q583.50,708.70 581.95,709.62 L576.15,713.08 Q574.60,714.00 573.61,715.50 L570.29,720.50 Q569.30,722.00 569.20,723.80 L568.50,736.20 Q568.40,738.00 566.92,739.03 L549.48,751.17 Q548.00,752.20 546.33,751.53 L545.17,751.07 Q543.50,750.40 543.33,748.61 L541.87,732.69 Q541.70,730.90 540.85,729.55 L540.85,729.55 Q540.00,728.20 538.38,728.98 L519.42,738.02 Q517.80,738.80 516.53,740.07 L515.47,741.13 Q514.20,742.40 514.20,744.20 L514.20,769.90 Q514.20,771.70 515.28,773.14 L515.82,773.86 Q516.90,775.30 516.32,777.00 L515.68,778.90 Q515.10,780.60 513.33,780.90 L511.57,781.20 Q509.80,781.50 508.72,780.06 L508.18,779.34 Q507.10,777.90 507.68,776.20 L508.32,774.30 Q508.90,772.60 508.90,770.80 L508.90,745.10 Q508.90,743.30 508.00,741.95 L508.00,741.95 Q507.10,740.60 507.55,738.86 Z" transform="translate(0.5,1.1)" style="stroke-width:1.1"/>
<path class="g" d="M507.55,738.84 Q508.00,737.10 509.08,735.66 L509.62,734.94 Q510.70,733.50 512.47,733.20 L514.23,732.90 Q516.00,732.60 517.62,731.82 L536.58,722.78 Q538.20,722.00 540.00,722.00 L541.70,722.00 Q543.50,722.00 545.01,721.02 L557.09,713.18 Q558.60,712.20 560.40,712.20 L564.80,712.20 Q566.60,712.20 568.10,711.21 L583.80,700.79 Q585.30,699.80 587.05,699.80 L587.05,699.80 Q588.80,699.80 589.62,701.40 L589.78,701.70 Q590.60,703.30 590.72,705.10 L591.38,714.80 Q591.50,716.60 593.17,717.28 L594.23,717.72 Q595.90,718.40 596.57,720.07 L597.03,721.23 Q597.70,722.90 596.60,724.33 L596.10,724.97 Q595.00,726.40 593.23,726.70 L591.47,727.00 Q589.70,727.30 588.62,725.86 L588.08,725.14 Q587.00,723.70 586.88,721.90 L586.22,712.20 Q586.10,710.40 584.80,709.55 L584.80,709.55 Q583.50,708.70 581.95,709.62 L576.15,713.08 Q574.60,714.00 573.61,715.50 L570.29,720.50 Q569.30,722.00 569.20,723.80 L568.50,736.20 Q568.40,738.00 566.92,739.03 L549.48,751.17 Q548.00,752.20 546.33,751.53 L545.17,751.07 Q543.50,750.40 543.33,748.61 L541.87,732.69 Q541.70,730.90 540.85,729.55 L540.85,729.55 Q540.00,728.20 538.38,728.98 L519.42,738.02 Q517.80,738.80 516.53,740.07 L515.47,741.13 Q514.20,742.40 514.20,744.20 L514.20,769.90 Q514.20,771.70 515.28,773.14 L515.82,773.86 Q516.90,775.30 516.32,777.00 L515.68,778.90 Q515.10,780.60 513.33,780.90 L511.57,781.20 Q509.80,781.50 508.72,780.06 L508.18,779.34 Q507.10,777.90 507.68,776.20 L508.32,774.30 Q508.90,772.60 508.90,770.80 L508.90,745.10 Q508.90,743.30 508.00,741.95 L508.00,741.95 Q507.10,740.60 507.55,738.86 Z" style="stroke-width:1.25"/>
<path class="g" d="M547.03,729.60 Q547.10,728.20 548.28,727.44 L558.32,720.96 Q559.50,720.20 560.83,720.64 L560.87,720.66 Q562.20,721.10 562.36,722.49 L563.74,734.81 Q563.90,736.20 562.75,737.00 L549.95,746.00 Q548.80,746.80 547.63,746.03 L547.37,745.87 Q546.20,745.10 546.27,743.70 Z" style="stroke-width:1.2"/>
<path class="n" d="M548.29,730.36 Q548.35,729.16 549.36,728.51 L558.01,722.93 Q559.02,722.28 560.15,722.66 L560.20,722.68 Q561.34,723.06 561.47,724.25 L562.67,734.85 Q562.80,736.04 561.82,736.73 L550.80,744.47 Q549.81,745.16 548.81,744.50 L548.58,744.35 Q547.58,743.70 547.64,742.50 Z" style="stroke-width:.8"/>
<ellipse class="g" cx="512.10" cy="738.00" rx="1.25" ry="1.60" transform="rotate(15 512.10 738.00)" style="stroke-width:.9"/>
<ellipse class="g" cx="511.50" cy="776.10" rx="1.25" ry="1.60" transform="rotate(15 511.50 776.10)" style="stroke-width:.9"/>
<ellipse class="g" cx="542.60" cy="726.40" rx="1.25" ry="1.60" transform="rotate(15 542.60 726.40)" style="stroke-width:.9"/>
<ellipse class="g" cx="566.10" cy="716.30" rx="1.25" ry="1.60" transform="rotate(15 566.10 716.30)" style="stroke-width:.9"/>
<ellipse class="g" cx="595.00" cy="722.50" rx="1.25" ry="1.60" transform="rotate(15 595.00 722.50)" style="stroke-width:.9"/>
</g>
<g transform="translate(0,0)">
<path class="g" d="M191.35,743.75 Q191.80,742.40 192.57,740.77 L192.73,740.43 Q193.50,738.80 195.22,738.26 L197.18,737.64 Q198.90,737.10 200.53,736.34 L222.07,726.26 Q223.70,725.50 225.50,725.50 L227.30,725.50 Q229.10,725.50 230.59,724.48 L241.81,716.82 Q243.30,715.80 245.10,715.80 L249.50,715.80 Q251.30,715.80 252.79,714.80 L268.41,704.30 Q269.90,703.30 271.70,703.30 L271.70,703.30 Q273.50,703.30 274.30,704.91 L274.50,705.29 Q275.30,706.90 275.41,708.70 L275.99,718.40 Q276.10,720.20 277.77,720.87 L278.93,721.33 Q280.60,722.00 281.28,723.67 L281.72,724.73 Q282.40,726.40 281.32,727.84 L280.78,728.56 Q279.70,730.00 277.93,730.30 L276.17,730.60 Q274.40,730.90 273.32,729.46 L272.78,728.74 Q271.70,727.30 271.58,725.50 L270.92,715.80 Q270.80,714.00 269.45,713.10 L269.45,713.10 Q268.10,712.20 266.56,713.13 L260.84,716.57 Q259.30,717.50 258.29,718.99 L254.91,724.01 Q253.90,725.50 253.80,727.30 L253.10,739.70 Q253.00,741.50 251.52,742.53 L234.08,754.67 Q232.60,755.70 230.93,755.02 L229.87,754.58 Q228.20,753.90 228.03,752.11 L226.57,736.19 Q226.40,734.40 225.50,733.05 L225.50,733.05 Q224.60,731.70 222.99,732.51 L203.11,742.49 Q201.50,743.30 200.23,744.57 L199.27,745.53 Q198.00,746.80 196.23,747.15 L195.27,747.35 Q193.50,747.70 192.23,746.43 L192.17,746.37 Q190.90,745.10 191.35,743.75 Z" transform="translate(0.5,1.1)" style="stroke-width:1.1"/>
<path class="g" d="M191.35,743.75 Q191.80,742.40 192.57,740.77 L192.73,740.43 Q193.50,738.80 195.22,738.26 L197.18,737.64 Q198.90,737.10 200.53,736.34 L222.07,726.26 Q223.70,725.50 225.50,725.50 L227.30,725.50 Q229.10,725.50 230.59,724.48 L241.81,716.82 Q243.30,715.80 245.10,715.80 L249.50,715.80 Q251.30,715.80 252.79,714.80 L268.41,704.30 Q269.90,703.30 271.70,703.30 L271.70,703.30 Q273.50,703.30 274.30,704.91 L274.50,705.29 Q275.30,706.90 275.41,708.70 L275.99,718.40 Q276.10,720.20 277.77,720.87 L278.93,721.33 Q280.60,722.00 281.28,723.67 L281.72,724.73 Q282.40,726.40 281.32,727.84 L280.78,728.56 Q279.70,730.00 277.93,730.30 L276.17,730.60 Q274.40,730.90 273.32,729.46 L272.78,728.74 Q271.70,727.30 271.58,725.50 L270.92,715.80 Q270.80,714.00 269.45,713.10 L269.45,713.10 Q268.10,712.20 266.56,713.13 L260.84,716.57 Q259.30,717.50 258.29,718.99 L254.91,724.01 Q253.90,725.50 253.80,727.30 L253.10,739.70 Q253.00,741.50 251.52,742.53 L234.08,754.67 Q232.60,755.70 230.93,755.02 L229.87,754.58 Q228.20,753.90 228.03,752.11 L226.57,736.19 Q226.40,734.40 225.50,733.05 L225.50,733.05 Q224.60,731.70 222.99,732.51 L203.11,742.49 Q201.50,743.30 200.23,744.57 L199.27,745.53 Q198.00,746.80 196.23,747.15 L195.27,747.35 Q193.50,747.70 192.23,746.43 L192.17,746.37 Q190.90,745.10 191.35,743.75 Z" style="stroke-width:1.25"/>
<path class="g" d="M231.63,733.10 Q231.70,731.70 232.88,730.95 L243.02,724.45 Q244.20,723.70 245.50,724.15 L245.50,724.15 Q246.80,724.60 246.97,725.99 L248.43,738.31 Q248.60,739.70 247.46,740.51 L234.64,749.59 Q233.50,750.40 232.34,749.62 L231.96,749.38 Q230.80,748.60 230.87,747.20 Z" style="stroke-width:1.2"/>
<path class="n" d="M232.90,733.86 Q232.96,732.66 233.97,732.02 L242.70,726.43 Q243.71,725.79 244.83,726.17 L244.83,726.17 Q245.95,726.56 246.09,727.75 L247.35,738.35 Q247.49,739.55 246.51,740.24 L235.49,748.05 Q234.51,748.75 233.51,748.08 L233.18,747.86 Q232.19,747.20 232.25,746.00 Z" style="stroke-width:.8"/>
<ellipse class="g" cx="196.60" cy="742.40" rx="1.25" ry="1.60" transform="rotate(15 196.60 742.40)" style="stroke-width:.9"/>
<ellipse class="g" cx="227.80" cy="730.50" rx="1.25" ry="1.60" transform="rotate(15 227.80 730.50)" style="stroke-width:.9"/>
<ellipse class="g" cx="250.90" cy="719.30" rx="1.25" ry="1.60" transform="rotate(15 250.90 719.30)" style="stroke-width:.9"/>
<ellipse class="g" cx="279.30" cy="726.10" rx="1.25" ry="1.60" transform="rotate(15 279.30 726.10)" style="stroke-width:.9"/>
</g>
<path class="d" d="M236,700 L255.4,710.4" style="stroke-dasharray:6 2.4"/>
<path class="d" d="M185.6,735.6 L191,738.6" style="stroke-dasharray:6 2.4"/>
<path class="d" d="M552.4,696.4 L573.4,708.6" style="stroke-dasharray:6 2.4"/>
<path class="d" d="M468.5,747.5 L506,772.5" style="stroke-dasharray:7 2.4"/>
</svg>
</body></html>
